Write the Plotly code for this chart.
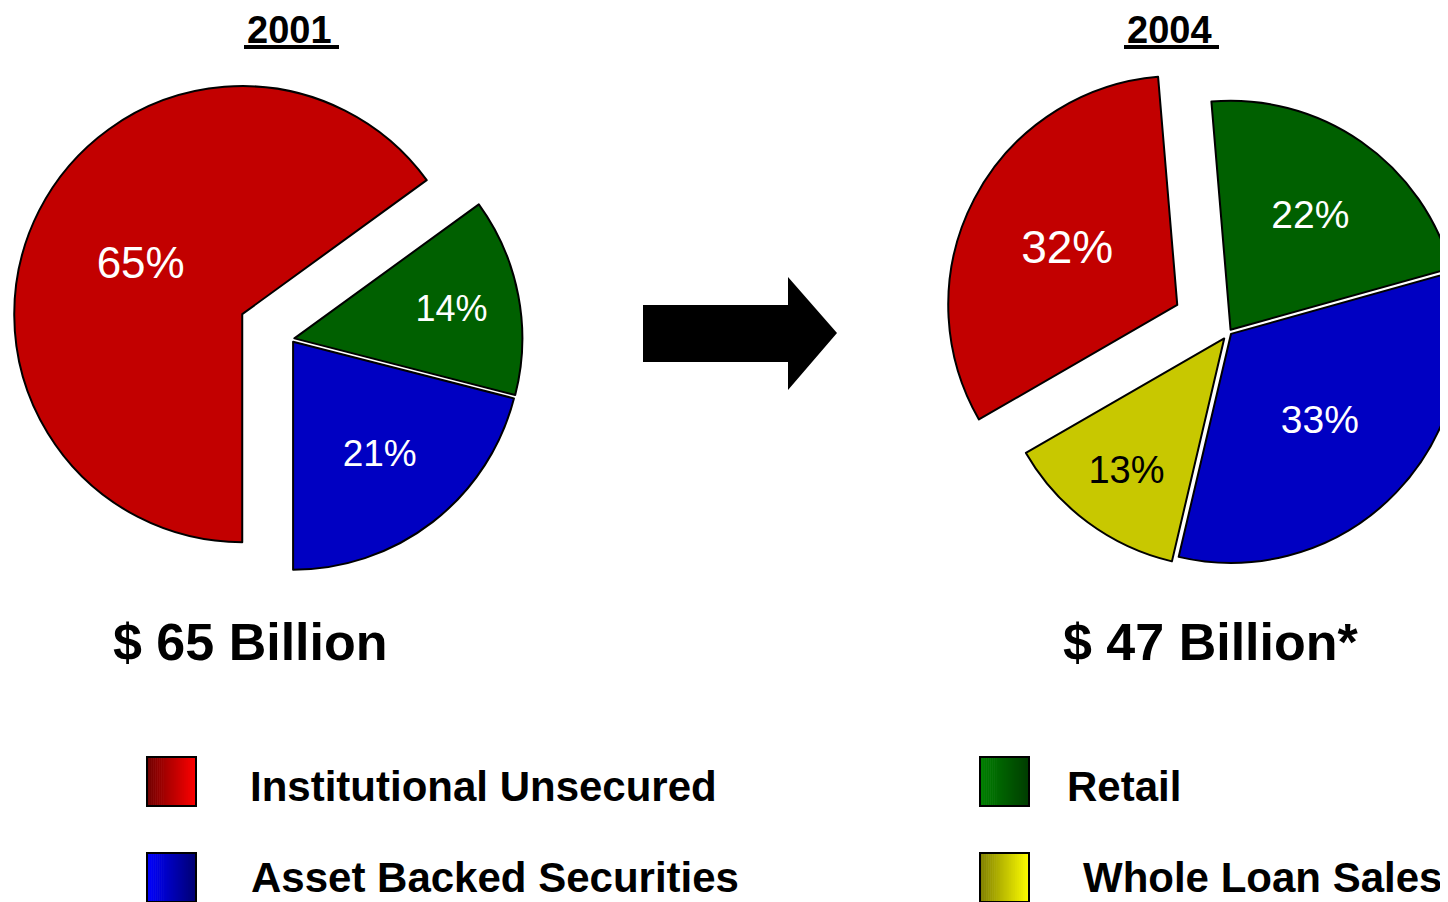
import plotly.graph_objects as go

# ---------------- data ----------------
categories = ["Institutional Unsecured", "Retail", "Asset Backed Securities", "Whole Loan Sales"]
years = ["2001", "2004"]
cats_2001 = ["Institutional Unsecured", "Retail", "Asset Backed Securities"]
share_2001 = [65, 14, 21]
cats_2004 = ["Institutional Unsecured", "Retail", "Asset Backed Securities", "Whole Loan Sales"]
share_2004 = [32, 22, 33, 13]
totals = ["$ 65 Billion", "$ 47 Billion*"]

# ---------------- styles ----------------
solid = {
    "Institutional Unsecured": "#c20000",
    "Retail": "#006000",
    "Asset Backed Securities": "#0000c2",
    "Whole Loan Sales": "#c8c800",
}
grad = {  # left colour, right colour (legend swatches)
    "Institutional Unsecured": ((112, 0, 0), (255, 0, 0)),
    "Retail": ((0, 128, 0), (0, 60, 0)),
    "Asset Backed Securities": ((0, 0, 255), (0, 0, 112)),
    "Whole Loan Sales": ((128, 128, 0), (255, 255, 0)),
}
txtcol = {"Institutional Unsecured": "white", "Retail": "white",
          "Asset Backed Securities": "white", "Whole Loan Sales": "black"}
FONT = "Liberation Sans, Arial, Helvetica, sans-serif"

W, H = 1520, 902
OFF = 8  # page body margin


def px(x):
    return (x - OFF) / W


def py(y):
    return 1 - (y - OFF) / H


def dom(cx, cy, half):
    return dict(x=[px(cx - half), px(cx + half)], y=[py(cy + half), py(cy - half)])


fig = go.Figure()

fig.add_trace(go.Pie(
    labels=cats_2001, values=share_2001, sort=False,
    direction="clockwise", rotation=180,
    pull=[0.24, 0.015, 0.015],
    domain=dom(291, 339, 228 * 1.24),
    marker=dict(colors=[solid[c] for c in cats_2001], line=dict(color="black", width=2)),
    texttemplate="%{value}%", textposition="inside", insidetextorientation="horizontal",
    textfont=dict(family=FONT, size=[44, 36, 37], color=[txtcol[c] for c in cats_2001]),
    hoverinfo="label+value", showlegend=False,
))

fig.add_trace(go.Pie(
    labels=cats_2004, values=share_2004, sort=False,
    direction="clockwise", rotation=240,
    pull=[0.255, 0.012, 0.012, 0.035],
    domain=dom(1229, 332, 229 * 1.255),
    marker=dict(colors=[solid[c] for c in cats_2004], line=dict(color="black", width=2)),
    texttemplate="%{value}%", textposition="inside", insidetextorientation="horizontal",
    textfont=dict(family=FONT, size=[46, 39, 39, 38], color=[txtcol[c] for c in cats_2004]),
    hoverinfo="label+value", showlegend=False,
))

annotations = []
shapes = []

# year titles with thick underline
for yr, tx, ux in zip(years, [245, 1125], [(244, 339), (1124, 1219)]):
    annotations.append(dict(x=px(tx), y=py(30), xref="paper", yref="paper",
                            text=f"<b>{yr}</b>", showarrow=False,
                            xanchor="left", yanchor="middle",
                            font=dict(family=FONT, size=38, color="black")))
    shapes.append(dict(type="rect", xref="paper", yref="paper",
                       x0=px(ux[0]), x1=px(ux[1]), y0=py(49), y1=py(45),
                       fillcolor="black", line=dict(width=0)))

# totals
for t, cx in zip(totals, [250.5, 1211]):
    annotations.append(dict(x=px(cx), y=py(642), xref="paper", yref="paper",
                            text=f"<b>{t}</b>", showarrow=False,
                            xanchor="center", yanchor="middle",
                            font=dict(family=FONT, size=52, color="black")))

# arrow
arrow_path = (f"M {px(643)},{py(305)} L {px(788)},{py(305)} L {px(788)},{py(277)} "
              f"L {px(837)},{py(333)} L {px(788)},{py(390)} L {px(788)},{py(362)} "
              f"L {px(643)},{py(362)} Z")
shapes.append(dict(type="path", xref="paper", yref="paper", path=arrow_path,
                   fillcolor="black", line=dict(color="black", width=0)))

# legend (swatch left x, swatch top y, text left x, text centre y)
legend_pos = {
    "Institutional Unsecured": (147, 757, 248, 786),
    "Asset Backed Securities": (147, 853, 249, 877),
    "Retail": (980, 757, 1065, 786),
    "Whole Loan Sales": (980, 853, 1081, 877),
}
SW = 49
NSTRIP = 24
for cat in categories:
    x0, y0, tx, ty = legend_pos[cat]
    c0, c1 = grad[cat]
    for k in range(NSTRIP):
        f = (k + 0.5) / NSTRIP
        col = "rgb({},{},{})".format(*[round(a + (b - a) * f) for a, b in zip(c0, c1)])
        xa = x0 + SW * k / NSTRIP
        xb = x0 + SW * (k + 1) / NSTRIP + 0.6
        shapes.append(dict(type="rect", xref="paper", yref="paper",
                           x0=px(xa), x1=px(min(xb, x0 + SW)), y0=py(y0 + SW), y1=py(y0),
                           fillcolor=col, line=dict(width=0)))
    shapes.append(dict(type="rect", xref="paper", yref="paper",
                       x0=px(x0), x1=px(x0 + SW), y0=py(y0 + SW), y1=py(y0),
                       fillcolor="rgba(0,0,0,0)", line=dict(color="black", width=2)))
    annotations.append(dict(x=px(tx), y=py(ty), xref="paper", yref="paper",
                            text=f"<b>{cat}</b>", showarrow=False,
                            xanchor="left", yanchor="middle",
                            font=dict(family=FONT, size=42, color="black")))

fig.update_layout(
    width=W, height=H, autosize=False,
    margin=dict(l=0, r=0, t=0, b=0, pad=0),
    paper_bgcolor="white", plot_bgcolor="white",
    showlegend=False,
    annotations=annotations, shapes=shapes,
)

fig.write_html("out.html")
